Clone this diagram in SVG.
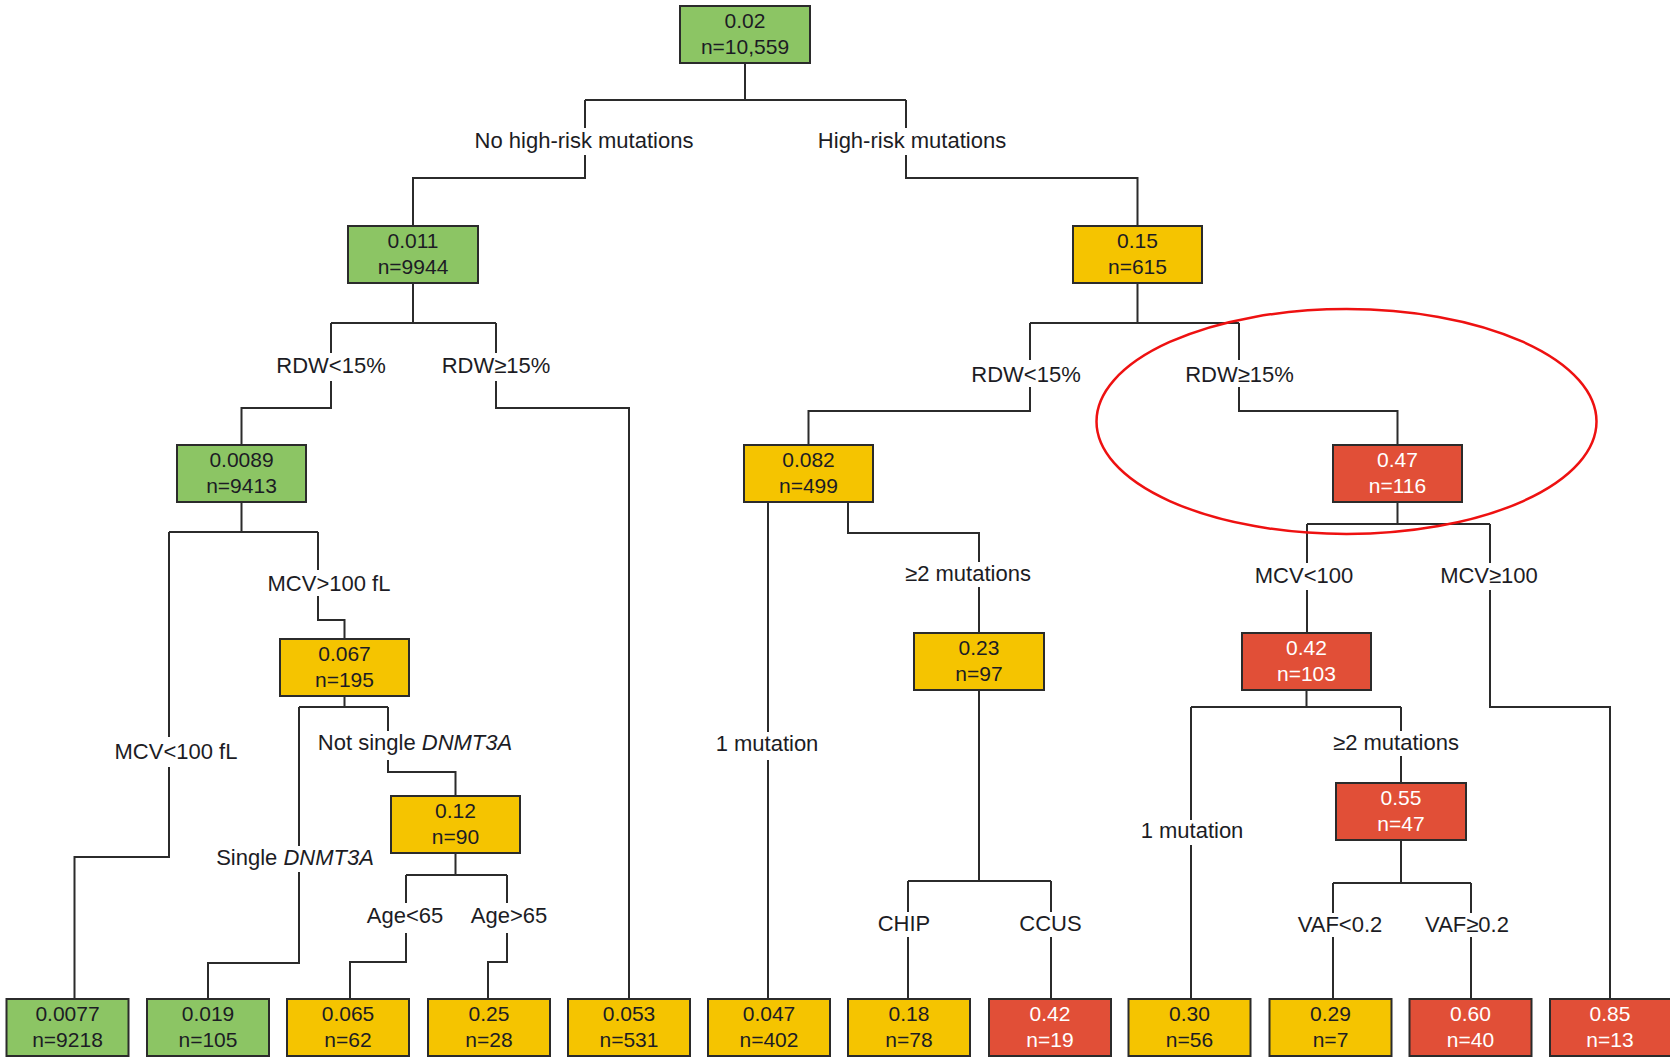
<svg xmlns="http://www.w3.org/2000/svg" width="1670" height="1057" viewBox="0 0 1670 1057">
  <style>
    .box rect { stroke: #2b2b2b; stroke-width: 2; }
    .g rect { fill: #8cc564; }
    .y rect { fill: #f5c400; }
    .r rect { fill: #e14f37; }
    .box text { font-family: "Liberation Sans", Arial, sans-serif; font-size: 21px; text-anchor: middle; fill: #1c1c24; }
    .r text { fill: #ffffff; }
    .conn path { fill: none; stroke: #2b2b2b; stroke-width: 2; }
    .lbl text { font-family: "Liberation Sans", Arial, sans-serif; font-size: 22px; text-anchor: middle; fill: #1c1c24; }
    .it { font-style: italic; }
  </style>
  <rect width="1670" height="1057" fill="#ffffff"/>

  <!-- branch connectors, broken where the split labels sit -->
  <g id="connectors" class="conn">
    <!-- root split -->
    <path d="M745 63 V100 M585 100 H906"/>
    <path d="M585 100 V128 M585 155 V178 H413 V226"/>
    <path d="M906 100 V128 M906 155 V178 H1137.5 V226"/>
    <!-- 0.011 split -->
    <path d="M413 283 V323 M331 323 H496"/>
    <path d="M331 323 V353 M331 381 V408 H241.5 V445"/>
    <path d="M496 323 V353 M496 381 V408 H629 V999"/>
    <!-- 0.0089 split -->
    <path d="M241.5 502 V532 M169 532 H318"/>
    <path d="M169 532 V737 M169 767 V857 H74.5 V999"/>
    <path d="M318 532 V570 M318 596 V620 H344.5 V639"/>
    <!-- 0.067 split -->
    <path d="M344.5 696 V707 M299 707 H388"/>
    <path d="M299 707 V846 M299 872 V963 H208 V999"/>
    <path d="M388 707 V731 M388 760 V772 H455.5 V796"/>
    <!-- 0.12 split -->
    <path d="M455.5 853 V875 M406 875 H507"/>
    <path d="M406 875 V903 M406 933 V962 H350 V999"/>
    <path d="M507 875 V903 M507 933 V962 H488 V999"/>
    <!-- 0.15 split -->
    <path d="M1137.5 283 V323 M1030 323 H1239"/>
    <path d="M1030 323 V360 M1030 387 V411 H808.5 V445"/>
    <path d="M1239 323 V360 M1239 387 V411 H1397.5 V445"/>
    <!-- 0.082 split -->
    <path d="M768 502 V732 M768 760 V999"/>
    <path d="M848 502 V533 H979 V562 M979 587 V633"/>
    <!-- 0.23 split -->
    <path d="M979 690 V881 M908 881 H1051"/>
    <path d="M908 881 V912 M908 937 V999"/>
    <path d="M1051 881 V912 M1051 937 V999"/>
    <!-- 0.47 split -->
    <path d="M1397.5 502 V524 M1307 524 H1490"/>
    <path d="M1307 524 V563 M1307 590 V633"/>
    <path d="M1490 524 V563 M1490 590 V707 H1610 V999"/>
    <!-- 0.42 split -->
    <path d="M1306.5 690 V707 M1191 707 H1401"/>
    <path d="M1191 707 V820 M1191 845 V999"/>
    <path d="M1401 707 V731 M1401 756 V783"/>
    <!-- 0.55 split -->
    <path d="M1401 840 V883 M1333 883 H1471"/>
    <path d="M1333 883 V913 M1333 937 V999"/>
    <path d="M1471 883 V913 M1471 937 V999"/>
  </g>

  <!-- split conditions -->
  <g id="edge-labels" class="lbl">
    <text x="584" y="148">No high-risk mutations</text>
    <text x="912" y="148">High-risk mutations</text>
    <text x="331" y="373">RDW&lt;15%</text>
    <text x="496" y="373">RDW≥15%</text>
    <text x="329" y="591">MCV&gt;100 fL</text>
    <text x="176" y="759">MCV&lt;100 fL</text>
    <text x="415" y="750">Not single <tspan class="it">DNMT3A</tspan></text>
    <text x="295" y="865">Single <tspan class="it">DNMT3A</tspan></text>
    <text x="405" y="923">Age&lt;65</text>
    <text x="509" y="923">Age&gt;65</text>
    <text x="1026" y="382">RDW&lt;15%</text>
    <text x="1239.5" y="382">RDW≥15%</text>
    <text x="767" y="751">1 mutation</text>
    <text x="968" y="581">≥2 mutations</text>
    <text x="904" y="931">CHIP</text>
    <text x="1050.5" y="931">CCUS</text>
    <text x="1304" y="583">MCV&lt;100</text>
    <text x="1489" y="583">MCV≥100</text>
    <text x="1192" y="838">1 mutation</text>
    <text x="1396" y="750">≥2 mutations</text>
    <text x="1340" y="932">VAF&lt;0.2</text>
    <text x="1467" y="932">VAF≥0.2</text>
  </g>

  <!-- internal nodes -->
  <g id="n-root" class="box g"><rect x="680" y="6" width="130" height="57"/><text x="745" y="27.5">0.02</text><text x="745" y="53.5">n=10,559</text></g>
  <g id="n-no-hr" class="box g"><rect x="348" y="226" width="130" height="57"/><text x="413" y="247.5">0.011</text><text x="413" y="273.5">n=9944</text></g>
  <g id="n-hr" class="box y"><rect x="1073" y="226" width="129" height="57"/><text x="1137.5" y="247.5">0.15</text><text x="1137.5" y="273.5">n=615</text></g>
  <g id="n-no-hr-rdw-low" class="box g"><rect x="177" y="445" width="129" height="57"/><text x="241.5" y="466.5">0.0089</text><text x="241.5" y="492.5">n=9413</text></g>
  <g id="n-hr-rdw-low" class="box y"><rect x="744" y="445" width="129" height="57"/><text x="808.5" y="466.5">0.082</text><text x="808.5" y="492.5">n=499</text></g>
  <g id="n-hr-rdw-high" class="box r"><rect x="1333" y="445" width="129" height="57"/><text x="1397.5" y="466.5">0.47</text><text x="1397.5" y="492.5">n=116</text></g>
  <g id="n-mcv-high" class="box y"><rect x="280" y="639" width="129" height="57"/><text x="344.5" y="660.5">0.067</text><text x="344.5" y="686.5">n=195</text></g>
  <g id="n-hr-2mut" class="box y"><rect x="914" y="633" width="130" height="57"/><text x="979" y="654.5">0.23</text><text x="979" y="680.5">n=97</text></g>
  <g id="n-hr-mcv-low" class="box r"><rect x="1242" y="633" width="129" height="57"/><text x="1306.5" y="654.5">0.42</text><text x="1306.5" y="680.5">n=103</text></g>
  <g id="n-not-single" class="box y"><rect x="391" y="796" width="129" height="57"/><text x="455.5" y="817.5">0.12</text><text x="455.5" y="843.5">n=90</text></g>
  <g id="n-hr-mcv-low-2mut" class="box r"><rect x="1336" y="783" width="130" height="57"/><text x="1401" y="804.5">0.55</text><text x="1401" y="830.5">n=47</text></g>

  <!-- leaves -->
  <g id="leaf-1" class="box g"><rect x="6.5" y="999" width="122" height="57"/><text x="67.5" y="1020.5">0.0077</text><text x="67.5" y="1046.5">n=9218</text></g>
  <g id="leaf-2" class="box g"><rect x="147" y="999" width="122" height="57"/><text x="208" y="1020.5">0.019</text><text x="208" y="1046.5">n=105</text></g>
  <g id="leaf-3" class="box y"><rect x="287" y="999" width="122" height="57"/><text x="348" y="1020.5">0.065</text><text x="348" y="1046.5">n=62</text></g>
  <g id="leaf-4" class="box y"><rect x="428" y="999" width="122" height="57"/><text x="489" y="1020.5">0.25</text><text x="489" y="1046.5">n=28</text></g>
  <g id="leaf-5" class="box y"><rect x="568" y="999" width="122" height="57"/><text x="629" y="1020.5">0.053</text><text x="629" y="1046.5">n=531</text></g>
  <g id="leaf-6" class="box y"><rect x="708" y="999" width="122" height="57"/><text x="769" y="1020.5">0.047</text><text x="769" y="1046.5">n=402</text></g>
  <g id="leaf-7" class="box y"><rect x="848" y="999" width="122" height="57"/><text x="909" y="1020.5">0.18</text><text x="909" y="1046.5">n=78</text></g>
  <g id="leaf-8" class="box r"><rect x="989" y="999" width="122" height="57"/><text x="1050" y="1020.5">0.42</text><text x="1050" y="1046.5">n=19</text></g>
  <g id="leaf-9" class="box y"><rect x="1128.5" y="999" width="122" height="57"/><text x="1189.5" y="1020.5">0.30</text><text x="1189.5" y="1046.5">n=56</text></g>
  <g id="leaf-10" class="box y"><rect x="1269.5" y="999" width="122" height="57"/><text x="1330.5" y="1020.5">0.29</text><text x="1330.5" y="1046.5">n=7</text></g>
  <g id="leaf-11" class="box r"><rect x="1409.5" y="999" width="122" height="57"/><text x="1470.5" y="1020.5">0.60</text><text x="1470.5" y="1046.5">n=40</text></g>
  <g id="leaf-12" class="box r"><rect x="1550" y="999" width="124" height="57"/><text x="1610" y="1020.5">0.85</text><text x="1610" y="1046.5">n=13</text></g>

  <!-- highlight around the high-RDW branch -->
  <ellipse id="highlight" cx="1346.5" cy="421.5" rx="250" ry="112.5" fill="none" stroke="#ee1111" stroke-width="2.5"/>
</svg>
